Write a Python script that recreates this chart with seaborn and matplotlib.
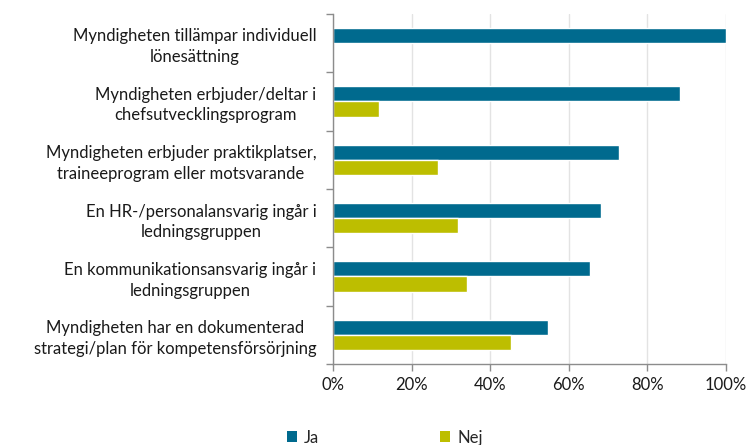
import matplotlib
matplotlib.use("Agg")
import matplotlib.pyplot as plt
import seaborn as sns
import pandas as pd
from matplotlib.ticker import PercentFormatter, FixedLocator
from matplotlib.patches import Patch

categories = [
    "Myndigheten tillämpar individuell\nlönesättning",
    "Myndigheten erbjuder/deltar i\nchefsutvecklingsprogram",
    "Myndigheten erbjuder praktikplatser,\ntraineeprogram eller motsvarande",
    "En HR-/personalansvarig ingår i\nledningsgruppen",
    "En kommunikationsansvarig ingår i\nledningsgruppen",
    "Myndigheten har en dokumenterad\nstrategi/plan för kompetensförsörjning",
]
ja = [100, 88.2, 72.7, 68.2, 65.5, 54.8]
nej = [0, 11.8, 26.8, 31.8, 34.2, 45.2]
series = ["Ja", "Nej"]
colors = {"Ja": "#006a8e", "Nej": "#bdbe00"}

df = pd.DataFrame({
    "kategori": categories * 2,
    "svar": ["Ja"] * len(ja) + ["Nej"] * len(nej),
    "andel": ja + nej,
})

sns.set_style("white")
plt.rcParams["font.family"] = ["Lato", "DejaVu Sans"]

fig, ax = plt.subplots(figsize=(7.5, 4.45), dpi=100)
fig.subplots_adjust(left=0.444, right=0.968, top=0.969, bottom=0.182)

sns.barplot(data=df, y="kategori", x="andel", hue="svar", hue_order=series,
            palette=colors, orient="h", width=0.52, saturation=1, ax=ax,
            legend=False)

ax.set_xlim(0, 100)
ax.set_ylim(len(categories) - 0.5, -0.5)
ax.xaxis.set_major_formatter(PercentFormatter(decimals=0))
ax.set_xticks(range(0, 101, 20))
ax.set_xlabel("")
ax.set_ylabel("")
ax.grid(axis="x", color="#e3e3e3", linewidth=1)
ax.set_axisbelow(True)

for s in ["top", "right"]:
    ax.spines[s].set_visible(False)
for s in ["left", "bottom"]:
    ax.spines[s].set_color("#8c8c8c")
    ax.spines[s].set_linewidth(1)

ax.tick_params(axis="y", which="major", left=False, length=0, pad=12,
               labelsize=12, labelcolor="#1a1a1a")
for lbl in ax.get_yticklabels():
    lbl.set_multialignment("center")
    lbl.set_linespacing(1.35)
ax.yaxis.set_minor_locator(FixedLocator([i - 0.5 for i in range(len(categories) + 1)]))
ax.tick_params(axis="y", which="minor", left=True, length=5, color="#8c8c8c", width=1)
ax.tick_params(axis="x", which="major", bottom=True, length=5, color="#8c8c8c",
               width=1, labelsize=12, labelcolor="#1a1a1a", pad=4)

handles = [Patch(facecolor=colors[s], edgecolor="none", label=s) for s in series]
fig.legend(handles=handles, loc="lower center", bbox_to_anchor=(0.513, -0.035),
           ncol=2, frameon=False, fontsize=12, handlelength=0.6,
           handleheight=0.6, handletextpad=0.4, columnspacing=7.3)

fig.savefig("out.png", dpi=100)
